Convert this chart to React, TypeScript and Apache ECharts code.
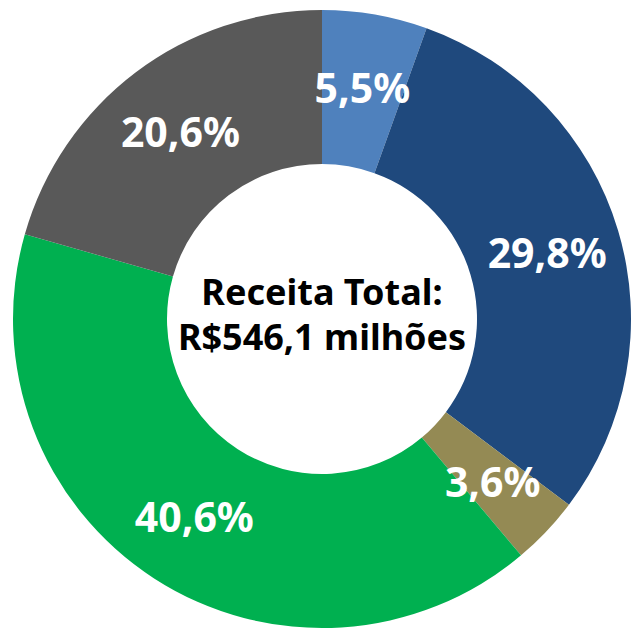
import React, { useEffect, useRef } from "react";
import * as echarts from "echarts";

const categories = ["A", "B", "C", "D", "E"];
const values = [5.5, 29.8, 3.6, 40.6, 20.6];
const colors = ["#4F81BD", "#1F497D", "#948A54", "#00B050", "#595959"];
const centerLines = ["Receita Total:", "R$546,1 milhões"];

export default function App() {
  const ref = useRef<HTMLDivElement>(null);
  useEffect(() => {
    document.body.style.margin = "0";
    const chart = echarts.init(ref.current!, null, { renderer: "svg" });
    const font = "'Noto Sans', 'Open Sans', sans-serif";
    chart.setOption({
      animation: false,
      graphic: [
        {
          type: "text",
          x: 322,
          y: 291,
          style: {
            text: centerLines[0],
            fill: "#000",
            font: `bold 36px ${font}`,
            textAlign: "center",
            textVerticalAlign: "middle",
          },
        },
        {
          type: "text",
          x: 322,
          y: 336,
          style: {
            text: centerLines[1],
            fill: "#000",
            font: `bold 36px ${font}`,
            textAlign: "center",
            textVerticalAlign: "middle",
          },
        },
      ],
      series: [
        {
          type: "pie",
          center: [322, 319],
          radius: [155, 309],
          startAngle: 90,
          clockwise: true,
          avoidLabelOverlap: false,
          label: {
            show: true,
            position: "inside",
            color: "#fff",
            fontFamily: font,
            fontWeight: "bold",
            fontSize: 41,
            formatter: (p: any) => p.value.toFixed(1).replace(".", ",") + "%",
          },
          labelLine: { show: false },
          emphasis: { disabled: true },
          data: categories.map((c, i) => ({
            name: c,
            value: values[i],
            itemStyle: { color: colors[i] },
          })),
        },
      ],
    });
    return () => chart.dispose();
  }, []);
  return <div ref={ref} style={{ width: 631, height: 629 }} />;
}
